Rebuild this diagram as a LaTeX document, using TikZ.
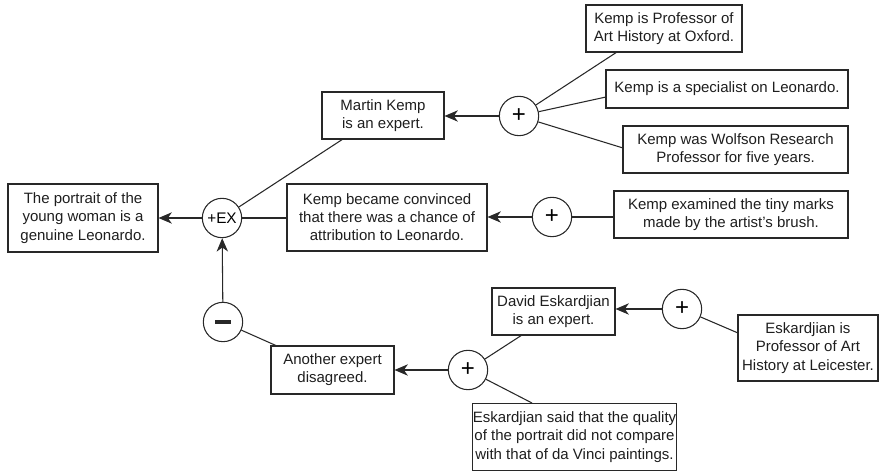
\documentclass[tikz,border=0pt]{standalone}
\usepackage{fontspec}
\setmainfont{Liberation Sans}
\usetikzlibrary{arrows.meta,calc}
\begin{document}
\begin{tikzpicture}[x=0.75pt,y=-0.75pt,
  line width=0.8pt, draw={rgb,255:red,40;green,40;blue,40},
  box/.style={draw, rectangle, align=center, inner sep=0pt,
    font=\fontsize{11.25}{13.6}\selectfont, text={rgb,255:red,30;green,30;blue,30}},
  opcirc/.style={draw, circle, minimum size=29.5pt, inner sep=0pt},
  conn/.style={draw},
  arr/.style={draw, -{Stealth[length=10pt,width=8.5pt,inset=3pt]}}]
\useasboundingbox (0,0) rectangle (885,473);

% boxes
\node[box, minimum width=112.5pt, minimum height=51pt] (port) at (83,218) {The portrait of the\\young woman is a\\genuine Leonardo.};
\node[box, minimum width=91.5pt, minimum height=35.25pt] (mk) at (383,115.5) {Martin Kemp\\is an expert.};
\node[box, minimum width=117pt, minimum height=35.25pt] (ox) at (664,28.5) {Kemp is Professor of\\Art History at Oxford.};
\node[box, minimum width=181.5pt, minimum height=28.5pt] (spec) at (727,89) {Kemp is a specialist on Leonardo.};
\node[box, minimum width=168.75pt, minimum height=35.25pt] (wolf) at (735.5,149.5) {Kemp was Wolfson Research\\Professor for five years.};
\node[box, minimum width=175.5pt, minimum height=35.25pt] (exam) at (731,214.5) {Kemp examined the tiny marks\\made by the artist's brush.};
\node[box, minimum width=150pt, minimum height=50.25pt] (conv) at (387,217.5) {Kemp became convinced\\that there was a chance of\\attribution to Leonardo.};
\node[box, minimum width=92.25pt, minimum height=35.25pt] (david) at (553.5,311.5) {David Eskardjian\\is an expert.};
\node[box, minimum width=105pt, minimum height=49.5pt] (leic) at (808,348) {Eskardjian is\\Professor of Art\\History at Leicester.};
\node[box, minimum width=92.25pt, minimum height=36pt] (another) at (332.5,370) {Another expert\\disagreed.};
\node[box, minimum width=145.5pt, minimum height=50.25pt] (said) at (574.5,437) {Eskardjian said that the quality\\of the portrait did not compare\\with that of da Vinci paintings.};

% operator circles
\node[opcirc, font=\fontsize{11.5}{13}\selectfont] (ex) at (222,218) {+EX};
\node[opcirc] (minus) at (223,322) {};
\draw[line width=2.4pt] ($(minus)+(-8,0)$) -- ($(minus)+(8,0)$);
\node[opcirc, font=\fontsize{18}{18}\selectfont] (p1) at (519,116) {+};
\node[opcirc, font=\fontsize{18}{18}\selectfont] (p2) at (552,217) {+};
\node[opcirc, font=\fontsize{18}{18}\selectfont] (p3) at (682,309) {+};
\node[opcirc, font=\fontsize{18}{18}\selectfont] (p4) at (468,370) {+};

% free ends on box borders
\coordinate (mkb) at (343,139);
\coordinate (oxb) at (617,52);
\coordinate (specb) at (606,97);
\coordinate (wolfb) at (623,148);
\coordinate (leicb) at (738,333);
\coordinate (davidb) at (522,335);
\coordinate (saidb) at (532,403);
\coordinate (anotherb) at (277,346);

% connectors
\draw[arr] (ex) -- (port.east |- ex);
\draw[arr] (minus) -- (ex);
\draw[conn] (anotherb) -- (minus);
\draw[conn] (mkb) -- (ex);
\draw[conn] (conv.west |- ex) -- (ex);

\draw[arr] (p1) -- (mk.east |- p1);
\draw[conn] (oxb) -- (p1);
\draw[conn] (specb) -- (p1);
\draw[conn] (wolfb) -- (p1);

\draw[arr] (p2) -- (conv.east |- p2);
\draw[conn] (exam.west |- p2) -- (p2);

\draw[arr] (p3) -- (david.east |- p3);
\draw[conn] (leicb) -- (p3);

\draw[arr] (p4) -- (another.east |- p4);
\draw[conn] (davidb) -- (p4);
\draw[conn] (saidb) -- (p4);
\end{tikzpicture}
\end{document}
